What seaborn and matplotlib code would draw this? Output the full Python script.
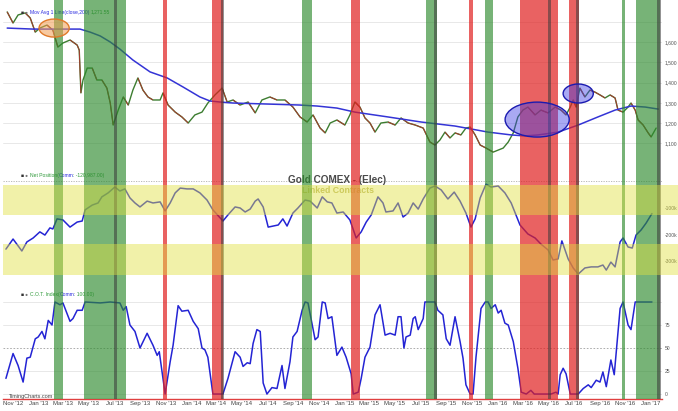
import matplotlib
matplotlib.use("Agg")
import numpy as np
import pandas as pd
import matplotlib.pyplot as plt
import matplotlib.dates as mdates
import matplotlib.transforms as mtrans
from matplotlib.patches import Ellipse
from matplotlib.collections import LineCollection
import seaborn as sns

# ---------------- data ----------------
price_dates = [
    "2012-10-18", "2012-11-01", "2012-11-13", "2012-11-30", "2012-12-12", "2012-12-24", "2013-01-04", "2013-01-21", "2013-02-04", "2013-02-16",
    "2013-02-28", "2013-03-17", "2013-04-03", "2013-04-08", "2013-04-12", "2013-04-17", "2013-04-27", "2013-05-09", "2013-05-20", "2013-06-01",
    "2013-06-13", "2013-06-21", "2013-06-28", "2013-07-10", "2013-07-22", "2013-08-03", "2013-08-14", "2013-08-26", "2013-09-07", "2013-09-19",
    "2013-10-01", "2013-10-18", "2013-10-25", "2013-11-06", "2013-11-23", "2013-12-09", "2013-12-24", "2014-01-09", "2014-01-26", "2014-02-09",
    "2014-02-26", "2014-03-15", "2014-03-27", "2014-04-10", "2014-04-27", "2014-05-16", "2014-06-02", "2014-06-18", "2014-07-07", "2014-07-24",
    "2014-08-12", "2014-08-31", "2014-09-17", "2014-10-04", "2014-10-18", "2014-11-04", "2014-11-16", "2014-11-28", "2014-12-14", "2015-01-02",
    "2015-01-14", "2015-01-26", "2015-02-07", "2015-02-19", "2015-03-03", "2015-03-15", "2015-03-29", "2015-04-15", "2015-05-02", "2015-05-16",
    "2015-06-02", "2015-06-19", "2015-07-08", "2015-07-24", "2015-08-05", "2015-08-17", "2015-08-29", "2015-09-10", "2015-09-22", "2015-10-06",
    "2015-10-18", "2015-10-28", "2015-11-09", "2015-11-21", "2015-12-05", "2015-12-22", "2016-01-03", "2016-01-15", "2016-01-27", "2016-02-08",
    "2016-02-19", "2016-03-02", "2016-03-14", "2016-03-31", "2016-04-14", "2016-05-01", "2016-05-18", "2016-06-01", "2016-06-13", "2016-06-23",
    "2016-06-30", "2016-07-07", "2016-07-16", "2016-07-28", "2016-08-09", "2016-08-21", "2016-09-02", "2016-09-14", "2016-09-26", "2016-10-08",
    "2016-10-15", "2016-10-27", "2016-11-08", "2016-11-15", "2016-11-25", "2016-12-02", "2016-12-14", "2016-12-26", "2017-01-02", "2017-01-14",
]
price_close = [
    1750, 1695, 1735, 1745, 1720, 1650, 1670, 1685, 1660, 1576,
    1596, 1611, 1586, 1561, 1349, 1413, 1472, 1472, 1413, 1413,
    1373, 1299, 1190, 1264, 1329, 1289, 1363, 1423, 1363, 1329,
    1314, 1314, 1349, 1289, 1254, 1230, 1200, 1240, 1254, 1299,
    1339, 1373, 1304, 1314, 1289, 1304, 1250, 1314, 1329, 1314,
    1314, 1279, 1230, 1205, 1240, 1175, 1151, 1200, 1215, 1190,
    1240, 1304, 1279, 1225, 1200, 1155, 1200, 1205, 1190, 1225,
    1200, 1190, 1175, 1106, 1091, 1116, 1155, 1126, 1151, 1141,
    1175, 1180, 1141, 1091, 1076, 1056, 1066, 1076, 1106, 1151,
    1230, 1264, 1279, 1240, 1264, 1250, 1279, 1264, 1240, 1279,
    1314, 1279, 1373, 1329, 1363, 1353, 1339, 1324, 1339, 1324,
    1264, 1254, 1279, 1299, 1264, 1215, 1190, 1151, 1131, 1175,
]

ma_dates = [
    "2012-10-18", "2012-12-19", "2013-03-10", "2013-04-10", "2013-05-04", "2013-05-28", "2013-06-21", "2013-07-14", "2013-08-14", "2013-09-24",
    "2013-11-04", "2013-12-12", "2014-01-21", "2014-02-14", "2014-03-10", "2014-04-10", "2014-06-30", "2014-09-17", "2014-10-28", "2014-12-14",
    "2015-01-26", "2015-04-15", "2015-07-03", "2015-09-22", "2015-12-10", "2016-02-03", "2016-03-07", "2016-04-07", "2016-05-25", "2016-07-12",
    "2016-08-28", "2016-10-08", "2016-11-15", "2016-12-19", "2017-01-19",
]
ma_values = [
    1670, 1665, 1665, 1665, 1650, 1631, 1601, 1566, 1512, 1453,
    1423, 1378, 1329, 1309, 1304, 1299, 1294, 1289, 1284, 1274,
    1254, 1230, 1205, 1185, 1155, 1141, 1136, 1141, 1155, 1190,
    1230, 1264, 1284, 1279, 1269,
]

net_dates = [
    "2012-10-15", "2012-11-01", "2012-11-22", "2012-12-04", "2012-12-19", "2013-01-04", "2013-01-16", "2013-01-28", "2013-02-04", "2013-02-14",
    "2013-02-28", "2013-03-17", "2013-04-03", "2013-04-15", "2013-04-22", "2013-05-09", "2013-05-23", "2013-06-01", "2013-06-16", "2013-07-02",
    "2013-07-14", "2013-07-26", "2013-08-07", "2013-08-19", "2013-08-31", "2013-09-17", "2013-10-01", "2013-10-18", "2013-10-30", "2013-11-11",
    "2013-11-23", "2013-12-05", "2013-12-21", "2014-01-05", "2014-01-21", "2014-02-07", "2014-02-21", "2014-03-17", "2014-03-29", "2014-04-15",
    "2014-04-27", "2014-05-09", "2014-05-21", "2014-06-02", "2014-06-09", "2014-06-21", "2014-07-03", "2014-07-15", "2014-07-27", "2014-08-07",
    "2014-08-17", "2014-08-31", "2014-09-12", "2014-09-29", "2014-10-11", "2014-10-28", "2014-11-09", "2014-11-21", "2014-12-02", "2014-12-14",
    "2014-12-29", "2015-01-14", "2015-01-29", "2015-02-10", "2015-02-22", "2015-03-06", "2015-03-22", "2015-04-03", "2015-04-10", "2015-04-27",
    "2015-05-09", "2015-05-21", "2015-06-02", "2015-06-14", "2015-06-26", "2015-07-08", "2015-07-24", "2015-08-05", "2015-08-20", "2015-09-05",
    "2015-09-20", "2015-10-04", "2015-10-18", "2015-10-30", "2015-11-09", "2015-11-21", "2015-12-05", "2015-12-17", "2016-01-03", "2016-01-19",
    "2016-02-03", "2016-02-24", "2016-03-14", "2016-03-31", "2016-04-14", "2016-05-01", "2016-05-13", "2016-05-25", "2016-06-03", "2016-06-18",
    "2016-06-30", "2016-07-12", "2016-07-28", "2016-08-12", "2016-08-28", "2016-09-09", "2016-09-17", "2016-09-28", "2016-10-08", "2016-10-20",
    "2016-10-27", "2016-11-08", "2016-11-18", "2016-11-27", "2016-12-09", "2016-12-21", "2017-01-04",
]
net_position_k = [
    -255, -217, -262, -228, -213, -190, -202, -175, -179, -141,
    -145, -172, -153, -149, -107, -89, -81, -58, -43, -21,
    -36, -28, -62, -81, -96, -74, -81, -77, -111, -81,
    -43, -25, -28, -28, -43, -70, -107, -149, -126, -96,
    -100, -115, -104, -74, -66, -96, -172, -168, -164, -141,
    -168, -119, -100, -70, -74, -100, -58, -77, -81, -119,
    -115, -145, -213, -190, -153, -126, -58, -81, -115, -111,
    -81, -134, -119, -81, -104, -66, -25, -17, -32, -66,
    -40, -74, -119, -172, -141, -62, -10, -21, -17, -43,
    -81, -164, -198, -213, -236, -258, -296, -292, -224, -292,
    -326, -349, -326, -322, -322, -315, -334, -304, -322, -228,
    -213, -247, -251, -202, -183, -157, -121,
]

cot_dates = [
    "2012-10-15", "2012-11-01", "2012-11-13", "2012-11-25", "2012-12-04", "2012-12-12", "2012-12-24", "2012-12-31", "2013-01-09", "2013-01-16",
    "2013-01-24", "2013-02-02", "2013-02-09", "2013-02-21", "2013-02-28", "2013-03-17", "2013-03-24", "2013-04-03", "2013-04-15", "2013-04-22",
    "2013-05-28", "2013-06-21", "2013-07-14", "2013-07-22", "2013-07-29", "2013-08-07", "2013-08-19", "2013-08-31", "2013-09-17", "2013-10-01",
    "2013-10-11", "2013-10-16", "2013-10-30", "2013-11-11", "2013-11-18", "2013-11-30", "2013-12-09", "2013-12-24", "2014-01-05", "2014-01-17",
    "2014-01-26", "2014-02-02", "2014-02-09", "2014-02-21", "2014-03-17", "2014-03-29", "2014-04-15", "2014-04-27", "2014-05-04", "2014-05-14",
    "2014-05-21", "2014-05-28", "2014-06-06", "2014-06-14", "2014-06-21", "2014-06-30", "2014-07-12", "2014-07-24", "2014-08-05", "2014-08-12",
    "2014-08-24", "2014-08-31", "2014-09-10", "2014-09-22", "2014-09-29", "2014-10-06", "2014-10-23", "2014-10-30", "2014-11-09", "2014-11-16",
    "2014-11-23", "2014-12-02", "2014-12-14", "2014-12-26", "2015-01-05", "2015-01-17", "2015-01-22", "2015-02-03", "2015-02-10", "2015-02-19",
    "2015-03-03", "2015-03-15", "2015-03-27", "2015-04-08", "2015-04-20", "2015-05-02", "2015-05-09", "2015-05-16", "2015-05-23", "2015-05-28",
    "2015-06-07", "2015-06-14", "2015-06-19", "2015-06-26", "2015-07-08", "2015-07-12", "2015-08-05", "2015-08-12", "2015-08-24", "2015-09-01",
    "2015-09-10", "2015-09-22", "2015-10-04", "2015-10-11", "2015-10-18", "2015-10-28", "2015-11-04", "2015-11-11", "2015-11-23", "2015-12-03",
    "2015-12-10", "2015-12-17", "2015-12-27", "2016-01-03", "2016-01-10", "2016-01-19", "2016-01-27", "2016-02-08", "2016-02-19", "2016-02-27",
    "2016-03-10", "2016-03-21", "2016-03-29", "2016-05-08", "2016-05-20", "2016-05-25", "2016-05-30", "2016-06-06", "2016-06-13", "2016-06-23",
    "2016-07-12", "2016-07-24", "2016-08-05", "2016-08-12", "2016-08-24", "2016-09-02", "2016-09-09", "2016-09-17", "2016-09-28", "2016-10-06",
    "2016-10-20", "2016-10-27", "2016-11-08", "2016-11-15", "2016-11-25", "2017-01-04",
]
cot_index = [
    17, 44, 31, 13, 39, 40, 60, 62, 68, 60,
    80, 75, 100, 97, 99, 79, 82, 91, 91, 100,
    99, 100, 99, 91, 95, 75, 68, 50, 66, 53,
    42, 46, 0, 35, 53, 96, 90, 91, 79, 71,
    50, 48, 40, 0, 0, 17, 46, 40, 30, 34,
    33, 55, 70, 68, 12, 0, 7, 6, 31, 6,
    35, 62, 68, 91, 100, 99, 59, 62, 100, 99,
    82, 84, 42, 51, 40, 22, 0, 2, 17, 40,
    51, 86, 97, 64, 66, 64, 84, 84, 50, 62,
    64, 82, 84, 70, 82, 100, 100, 91, 86, 60,
    53, 84, 57, 39, 10, 0, 0, 40, 93, 100,
    100, 93, 97, 88, 91, 77, 75, 57, 28, 2,
    0, 4, 0, 0, 2, 0, 21, 28, 22, 0,
    0, 6, 10, 7, 15, 13, 24, 8, 37, 21,
    93, 100, 75, 70, 100, 100,
]

green_zones = [("2013-02-07", "2013-02-28"), ("2013-04-19", "2013-07-29"), ("2014-09-22", "2014-10-16"),
               ("2015-07-15", "2015-08-10"), ("2015-12-03", "2015-12-22"), ("2016-10-25", "2016-11-01"),
               ("2016-11-27", "2017-01-23")]
red_zones = [("2013-10-25", "2013-11-04"), ("2014-02-19", "2014-03-17"), ("2015-01-17", "2015-02-07"),
             ("2015-10-25", "2015-11-04"), ("2016-02-24", "2016-05-25"), ("2016-06-20", "2016-07-14")]
gray_marks = [("2013-06-30", "2013-07-07"), ("2014-03-12", "2014-03-20"), ("2015-08-03", "2015-08-10"),
              ("2016-05-01", "2016-05-08"), ("2016-07-07", "2016-07-14"), ("2017-01-16", "2017-01-26")]

net_upper_zone_k = (-126, -13)
net_lower_zone_k = (-352, -236)

price_ticks = [1100, 1200, 1300, 1400, 1500, 1600]
price_tick_labels = ["1,100", "1,200", "1,300", "1,400", "1,500", "1,600"]
price_grid = [1100, 1200, 1300, 1400, 1500, 1600, 1700]
net_ticks_k = [-100, -200, -300]
net_tick_labels = ["-100k", "-200k", "-300k"]
cot_ticks = [0, 25, 50, 75]
cot_tick_labels = ["0", "25", "50", "75"]

# ---------------- figure ----------------
sns.set_theme(style="white")
plt.rcParams["font.family"] = ["Liberation Sans", "DejaVu Sans"]

W, H = 678, 411
fig = plt.figure(figsize=(W / 100, H / 100), dpi=100)
fig.patch.set_facecolor("white")

L, R = 3, 662


def make_ax(top, bottom):
    return fig.add_axes([L / W, 1 - bottom / H, (R - L) / W, (bottom - top) / H])


ax1 = make_ax(0, 172)
ax2 = make_ax(172, 287)
ax3 = make_ax(287, 399)
axes = [ax1, ax2, ax3]

xmin, xmax = pd.Timestamp("2012-10-08"), pd.Timestamp("2017-01-28")

p_dt = pd.to_datetime(price_dates)
m_dt = pd.to_datetime(ma_dates)
n_dt = pd.to_datetime(net_dates)
c_dt = pd.to_datetime(cot_dates)

GREEN = "#2e8b2e"
RED = "#e02020"
YELLOW = "#e0e040"
BLUE = "#2424d4"

# --- price panel
for v in price_grid:
    ax1.axhline(v, color="#e4e4e4", lw=0.6, zorder=0)
sns.lineplot(x=p_dt, y=price_close, ax=ax1, color="#3c7d30", lw=1.0, legend=False, zorder=2)
pn = mdates.date2num(p_dt)
segs, cols = [], []
for i in range(1, len(pn)):
    if price_close[i] < price_close[i - 1]:
        segs.append([(pn[i - 1], price_close[i - 1]), (pn[i], price_close[i])])
        cols.append("#a8382e")
ax1.add_collection(LineCollection(segs, colors=cols, linewidths=0.7, zorder=2.1))
sns.lineplot(x=m_dt, y=ma_values, ax=ax1, color="#3434d6", lw=1.1, legend=False, zorder=2.2)
ax1.set_ylim(957.5, 1809)

# --- net position panel
ax2.axhline(0, color="#b0b0b0", lw=0.6, ls=(0, (1.5, 1.5)), zorder=0)
sns.lineplot(x=n_dt, y=net_position_k, ax=ax2, color=BLUE, lw=1.1, legend=False, zorder=2)
ax2.set_ylim(-397.8, 35.7)
ext = (W - L) / (R - L)
for lo, hi in (net_upper_zone_k, net_lower_zone_k):
    ax2.axhspan(lo, hi, xmin=0, xmax=ext, color=YELLOW, alpha=0.45, lw=0, zorder=3.5, clip_on=False)

# --- COT index panel
for v in (0, 25, 75, 100):
    ax3.axhline(v, color="#e4e4e4", lw=0.6, zorder=0)
ax3.axhline(50, color="#a0a0a0", lw=0.6, ls=(0, (2, 2)), zorder=0)
sns.lineplot(x=c_dt, y=cot_index, ax=ax3, color=BLUE, lw=1.1, legend=False, zorder=2)
ax3.set_ylim(-5.4, 116.3)

# --- bands
for ax in axes:
    for s, e in green_zones:
        ax.axvspan(pd.Timestamp(s), pd.Timestamp(e), color=GREEN, alpha=0.65, lw=0, zorder=3)
    for s, e in red_zones:
        ax.axvspan(pd.Timestamp(s), pd.Timestamp(e), color=RED, alpha=0.7, lw=0, zorder=3)
    for s, e in gray_marks:
        ax.axvspan(pd.Timestamp(s), pd.Timestamp(e), color="#3a3a3a", alpha=0.55, lw=0, zorder=3.2)
    ax.set_xlim(xmin, xmax)
    ax.set_xlabel("")
    ax.set_ylabel("")
    ax.set_facecolor("none")
    for sp in ax.spines.values():
        sp.set_visible(False)
    ax.yaxis.tick_right()
    ax.tick_params(axis="y", length=0, pad=2, labelsize=3.6, labelcolor="#555555")
    ax.tick_params(axis="x", length=0)
    ax.grid(False)

ax1.set_yticks(price_ticks)
ax1.set_yticklabels(price_tick_labels)
ax2.set_yticks(net_ticks_k)
ax2.set_yticklabels(net_tick_labels)
ax3.set_yticks(cot_ticks)
ax3.set_yticklabels(cot_tick_labels)

ax1.set_xticks([])
ax2.set_xticks([])
ax3.xaxis.set_major_locator(mdates.MonthLocator(bymonth=(1, 3, 5, 7, 9, 11)))
ax3.xaxis.set_major_formatter(mdates.DateFormatter("%b '%y"))
ax3.tick_params(axis="x", labelsize=4.3, labelcolor="#444444", pad=1.2)
ax3.spines["bottom"].set_visible(True)
ax3.spines["bottom"].set_color("#e04040")
ax3.spines["bottom"].set_linewidth(1.0)

# --- annotations (ellipses)
def add_ellipse(ax, center_date, center_val, width_days, height_val, fc, ec):
    ax.add_patch(Ellipse((mdates.date2num(pd.Timestamp(center_date)), center_val), width_days, height_val,
                         facecolor=fc, edgecolor=ec, lw=1.0, zorder=5))

add_ellipse(ax1, "2013-02-07", 1670, 72, 89, (0.95, 0.62, 0.32, 0.55), "#e07a2a")
add_ellipse(ax1, "2016-04-05", 1217, 153, 173, (0.25, 0.25, 0.9, 0.45), "#1a1ab0")
add_ellipse(ax1, "2016-07-12", 1346, 72, 94, (0.25, 0.25, 0.9, 0.45), "#1a1ab0")

# --- texts
ident = mtrans.IdentityTransform()
fig.canvas.draw()
renderer = fig.canvas.get_renderer()


def multi_text(ax, x_px, y_px, parts, fs=3.6):
    x = x_px
    for txt, col in parts:
        t = ax.text(x, H - y_px, txt, color=col, fontsize=fs, transform=ident, va="center", ha="left",
                    zorder=2.5, clip_on=False)
        x += t.get_window_extent(renderer).width


LEG_G = "#2f9a3a"
LEG_B = "#2a2ae0"
multi_text(ax1, 21, 12, [("■ ", "#333333"), ("● ", "#777777"), ("Mov Avg 1 Line(close,200) ", LEG_B), ("1,271.55", LEG_G)])
multi_text(ax2, 21, 175, [("■ ", "#333333"), ("● ", "#777777"), ("Net Position(", LEG_G), ("Comm", LEG_B), (": -120,987.00)", LEG_G)])
multi_text(ax3, 21, 294, [("■ ", "#333333"), ("● ", "#777777"), ("C.O.T. Index(", LEG_G), ("Comm", LEG_B), (": 100.00)", LEG_G)])

ax2.text(337, H - 180, "Gold COMEX - (Elec)", transform=ident, ha="center", va="center", fontsize=7.2,
         fontweight="bold", color="#4a4a4a", zorder=2.5, clip_on=False)
ax2.text(338, H - 190, "Linked Contracts", transform=ident, ha="center", va="center", fontsize=6.3,
         fontweight="bold", color="#bdb870", zorder=2.5, clip_on=False)
ax3.text(9, H - 396.5, "TimingCharts.com", transform=ident, ha="left", va="center", fontsize=4.0,
         color="#444444", zorder=4, clip_on=False)

fig.savefig("out.png", dpi=100, facecolor="white")
